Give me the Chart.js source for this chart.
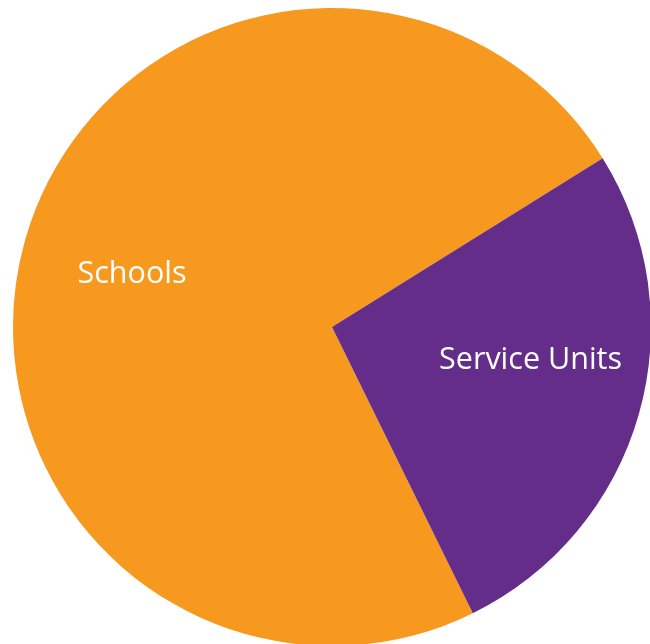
<!DOCTYPE html>
<html>
<head>
<meta charset="utf-8">
<script src="https://cdn.jsdelivr.net/npm/chart.js@4"></script>
<style>
  html, body { margin: 0; padding: 0; background: #fff; overflow: hidden; }
  #wrap { position: absolute; left: 0; top: 0; width: 664px; height: 654px; }
</style>
</head>
<body>
<div id="wrap"><canvas id="split"></canvas></div>
<script>
// Schools vs service units share
const categories = ['Schools', 'Service Units'];
const shares = [73.4, 26.6];
const sliceColours = ['#F7991F', '#632D89'];

// label placement inside each slice: radius fraction, angle nudge (deg)
const labelPlace = [
  { f: 0.65, nudge: -0.6 },
  { f: 0.63, nudge: -7.0 }
];

const sliceLabels = {
  id: 'sliceLabels',
  afterDatasetsDraw(chart) {
    const c = chart.ctx;
    const arcs = chart.getDatasetMeta(0).data;
    c.save();
    c.fillStyle = '#fff';
    c.font = '30.5px "Open Sans", sans-serif';
    c.textAlign = 'center';
    c.textBaseline = 'middle';
    arcs.forEach((arc, i) => {
      const p = arc.getProps(['x', 'y', 'startAngle', 'endAngle', 'outerRadius'], true);
      const a = (p.startAngle + p.endAngle) / 2 + labelPlace[i].nudge * Math.PI / 180;
      const r = p.outerRadius * labelPlace[i].f;
      c.fillText(chart.data.labels[i], p.x + Math.cos(a) * r, p.y + Math.sin(a) * r + 2);
    });
    c.restore();
  }
};

new Chart(document.getElementById('split'), {
  type: 'pie',
  data: {
    labels: categories,
    datasets: [{
      data: shares,
      backgroundColor: sliceColours,
      borderWidth: 0
    }]
  },
  options: {
    responsive: true,
    maintainAspectRatio: false,
    animation: false,
    rotation: 153.8,
    layout: { padding: { left: 13, right: 13, top: 8, bottom: 8 } },
    plugins: {
      legend: { display: false },
      tooltip: { enabled: false }
    }
  },
  plugins: [sliceLabels]
});
</script>
</body>
</html>
